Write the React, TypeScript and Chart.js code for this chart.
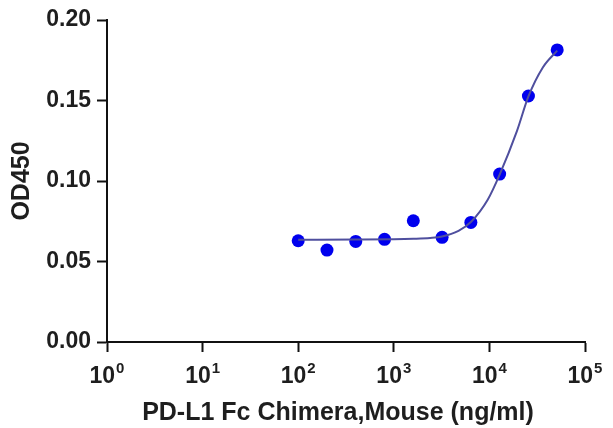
import React, { useEffect, useRef } from "react";
import { Chart, registerables } from "chart.js";

Chart.register(...registerables);

// Measured points (concentration ng/ml, OD450)
const concentrations = [100, 200, 400, 800, 1600, 3200, 6400, 12800, 25600, 51200];
const odValues = [0.0629, 0.0571, 0.0625, 0.0638, 0.0753, 0.065, 0.0743, 0.1043, 0.1528, 0.1814];

// Fitted curve
const curveX = [100, 400, 1000, 1600, 2400, 3200, 4750, 6400, 9600, 12800, 19400, 25600, 36200, 51200];
const curveY = [0.0635, 0.0636, 0.0638, 0.0641, 0.0646, 0.0655, 0.069, 0.0745, 0.0884, 0.104, 0.131, 0.1525, 0.1705, 0.181];

const xTickValues = [1, 10, 100, 1000, 10000, 100000];
const xTickExponents = ["0", "1", "2", "3", "4", "5"];
const yTickValues = [0, 0.05, 0.1, 0.15, 0.2];

const xTitle = "PD-L1 Fc Chimera,Mouse (ng/ml)";
const yTitle = "OD450";

const FONT = "'Liberation Sans', Arial, sans-serif";
const TEXT = "#1e1e1e";

export default function App() {
  const ref = useRef<HTMLCanvasElement | null>(null);

  useEffect(() => {
    if (!ref.current) return;
    const labelsPlugin = {
      id: "customLabels",
      afterDraw(chart: any) {
        const ctx = chart.ctx;
        const xs = chart.scales.x;
        const area = chart.chartArea;
        ctx.save();
        ctx.fillStyle = TEXT;
        // x tick labels 10^n
        xTickValues.forEach((v, i) => {
          const px = xs.getPixelForValue(v);
          ctx.font = `bold 23px ${FONT}`;
          const base = "10";
          const wb = ctx.measureText(base).width;
          ctx.font = `bold 15px ${FONT}`;
          const we = ctx.measureText(xTickExponents[i]).width;
          const total = wb + 1 + we;
          const start = px - total / 2;
          ctx.textAlign = "left";
          ctx.textBaseline = "alphabetic";
          ctx.font = `bold 23px ${FONT}`;
          ctx.fillText(base, start, 383);
          ctx.font = `bold 15px ${FONT}`;
          ctx.fillText(xTickExponents[i], start + wb + 1, 373);
        });
        // x title
        ctx.font = `bold 25px ${FONT}`;
        ctx.textAlign = "center";
        ctx.textBaseline = "alphabetic";
        ctx.fillText(xTitle, 338, 420);
        // y title
        ctx.translate(29, 181);
        ctx.rotate(-Math.PI / 2);
        ctx.font = `bold 25px ${FONT}`;
        ctx.textAlign = "center";
        ctx.textBaseline = "alphabetic";
        ctx.fillText(yTitle, 0, 0);
        ctx.restore();
      },
    };

    const chart = new Chart(ref.current, {
      type: "scatter",
      data: {
        datasets: [
          {
            label: "fit",
            data: curveX.map((x, i) => ({ x, y: curveY[i] })),
            showLine: true,
            borderColor: "#4f4f9e",
            borderWidth: 2,
            pointRadius: 0,
            cubicInterpolationMode: "monotone",
            fill: false,
          },
          {
            label: "data",
            data: concentrations.map((x, i) => ({ x, y: odValues[i] })),
            showLine: false,
            pointRadius: 6.5,
            pointBackgroundColor: "#0000ee",
            pointBorderColor: "#0000ee",
            pointBorderWidth: 0,
          },
        ],
      },
      options: {
        animation: false,
        responsive: true,
        maintainAspectRatio: false,
        layout: { padding: { left: 0, top: 20, right: 28, bottom: 0 } },
        plugins: { legend: { display: false }, tooltip: { enabled: false }, title: { display: false } },
        scales: {
          x: {
            type: "logarithmic",
            min: 1,
            max: 100000,
            afterBuildTicks: (scale: any) => {
              scale.ticks = xTickValues.map((v) => ({ value: v }));
            },
            afterFit: (scale: any) => {
              scale.height = 86;
            },
            ticks: { display: false },
            grid: {
              drawOnChartArea: false,
              drawTicks: true,
              tickLength: 10,
              tickWidth: 2,
              tickColor: "#111",
            },
            border: { display: true, color: "#111", width: 2 },
          },
          y: {
            type: "linear",
            min: 0,
            max: 0.2,
            afterBuildTicks: (scale: any) => {
              scale.ticks = yTickValues.map((v) => ({ value: v }));
            },
            afterFit: (scale: any) => {
              scale.width = 107;
            },
            ticks: {
              padding: 6,
              color: TEXT,
              font: { family: FONT, size: 23, weight: "bold" },
              callback: (v: any) => Number(v).toFixed(2),
            },
            grid: {
              drawOnChartArea: false,
              drawTicks: true,
              tickLength: 10,
              tickWidth: 2,
              tickColor: "#111",
            },
            border: { display: true, color: "#111", width: 2 },
          },
        },
      },
      plugins: [labelsPlugin],
    } as any);
    return () => chart.destroy();
  }, []);

  return (
    <div style={{ position: "fixed", left: 0, top: 0, width: 613, height: 428, background: "#fff" }}>
      <canvas ref={ref} />
    </div>
  );
}
